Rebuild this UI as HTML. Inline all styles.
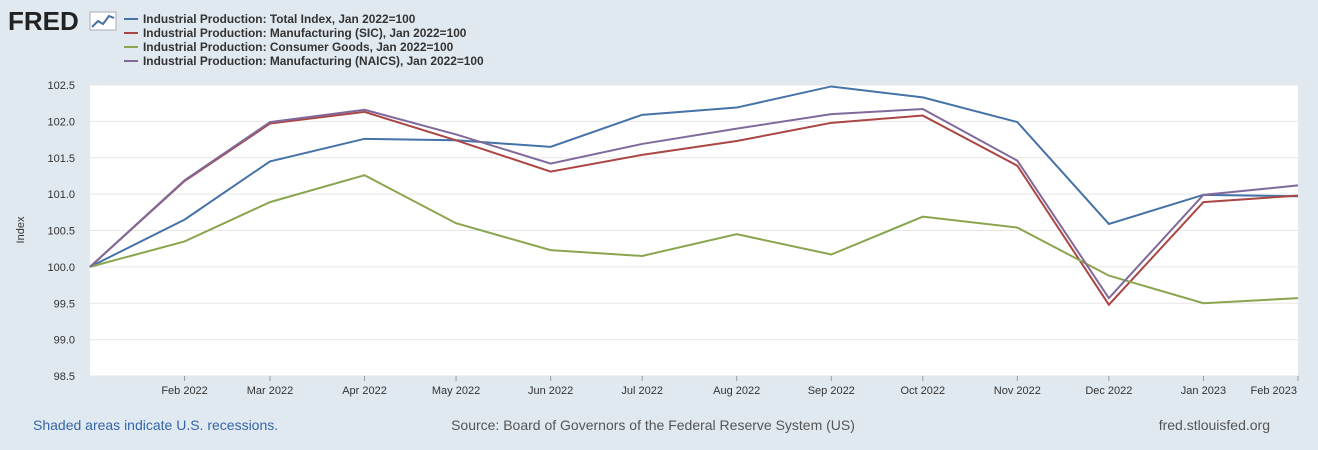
<!DOCTYPE html>
<html><head><meta charset="utf-8"><style>
body{margin:0;width:1318px;height:450px;background:#e1e9f0;font-family:"Liberation Sans",sans-serif;overflow:hidden}
svg{display:block}
</style></head><body>
<svg width="1318" height="450">
<g>
<text x="8" y="30" font-size="26" font-weight="900" fill="#222" font-family="Liberation Sans, sans-serif">FRED</text>
<rect x="90" y="12" width="26" height="18" fill="#fff" stroke="#aab"/>
<polyline points="92,27 98,21 103,24 109,16 114,18" fill="none" stroke="#4572a7" stroke-width="2"/>
</g>
<g id="legend"></g>
<rect x="90" y="85" width="1208" height="291" fill="#fff"/>
<g id="grid"></g>
<g id="series"></g>
<text transform="translate(24,230) rotate(-90)" font-size="11" fill="#333" text-anchor="middle">Index</text>
<text x="33" y="430" font-size="14" fill="#3366aa">Shaded areas indicate U.S. recessions.</text>
<text x="653" y="430" font-size="14" fill="#555" text-anchor="middle">Source: Board of Governors of the Federal Reserve System (US)</text>
<text x="1270" y="430" font-size="14" fill="#555" text-anchor="end">fred.stlouisfed.org</text>
</svg>
<script>
const months=["2022-01-01","2022-02-01","2022-03-01","2022-04-01","2022-05-01","2022-06-01","2022-07-01","2022-08-01","2022-09-01","2022-10-01","2022-11-01","2022-12-01","2023-01-01","2023-02-01"];
const monthLabels=["","Feb 2022","Mar 2022","Apr 2022","May 2022","Jun 2022","Jul 2022","Aug 2022","Sep 2022","Oct 2022","Nov 2022","Dec 2022","Jan 2023","Feb 2023"];
const totalIndex=[100,100.65,101.45,101.76,101.74,101.65,102.09,102.19,102.48,102.33,101.99,100.59,100.99,100.97];
const mfgSIC=[100,101.18,101.97,102.13,101.74,101.31,101.54,101.73,101.98,102.08,101.39,99.48,100.89,100.98];
const consumerGoods=[100,100.35,100.89,101.26,100.6,100.23,100.15,100.45,100.17,100.69,100.54,99.88,99.5,99.57];
const mfgNAICS=[100,101.19,101.99,102.16,101.82,101.42,101.69,101.9,102.1,102.17,101.46,99.57,100.99,101.12];
const yTicks=[98.5,99,99.5,100,100.5,101,101.5,102,102.5];
const seriesNames=["Industrial Production: Total Index, Jan 2022=100","Industrial Production: Manufacturing (SIC), Jan 2022=100","Industrial Production: Consumer Goods, Jan 2022=100","Industrial Production: Manufacturing (NAICS), Jan 2022=100"];
const colors=["#4572a7","#aa4643","#89a54e","#80699b"];
const NS="http://www.w3.org/2000/svg";
const t0=Date.parse(months[0]),t1=Date.parse(months[months.length-1]);
const xs=d=>90+(Date.parse(d)-t0)/(t1-t0)*1208;
const ys=v=>85+(102.5-v)/4*291;
function mk(tag,attrs,parent){const e=document.createElementNS(NS,tag);for(const k in attrs)e.setAttribute(k,attrs[k]);parent.appendChild(e);return e;}
const grid=document.getElementById('grid');
yTicks.forEach(v=>{
  const l=mk('line',{x1:90,x2:1298,y1:ys(v),y2:ys(v),stroke:'#e6e6e6'},grid);
  
  
  const t=mk('text',{x:75,y:ys(v)+4,'font-size':11,fill:'#333','text-anchor':'end'},grid);
  t.textContent=v.toFixed(1);
  
  
});
months.forEach((m,i)=>{
  if(!monthLabels[i])return;
  const x=xs(m);
  const tk=mk('line',{x1:x,x2:x,y1:376,y2:381,stroke:'#999'},grid);
  
  
  const t=mk('text',{x:i==months.length-1?1297:x,y:394,'font-size':11,fill:'#333','text-anchor':i==months.length-1?'end':'middle'},grid);
  t.textContent=monthLabels[i];
  
  
});
const sg=document.getElementById('series');
[totalIndex,mfgSIC,consumerGoods,mfgNAICS].forEach((s,k)=>{
  const p=mk('polyline',{points:s.map((v,i)=>xs(months[i])+','+ys(v)).join(' '),fill:'none',stroke:colors[k],'stroke-width':2},sg);
  
  
});
const lg=document.getElementById('legend');
seriesNames.forEach((n,k)=>{
  const y=19+k*14;
  const l=mk('line',{x1:124,x2:138,y1:y,y2:y,stroke:colors[k],'stroke-width':2},lg);
  
  
  const t=mk('text',{x:143,y:y+4,'font-size':11.9,'font-weight':'bold',fill:'#333'},lg);
  t.textContent=n;
  
  
});
</script>
</body></html>
